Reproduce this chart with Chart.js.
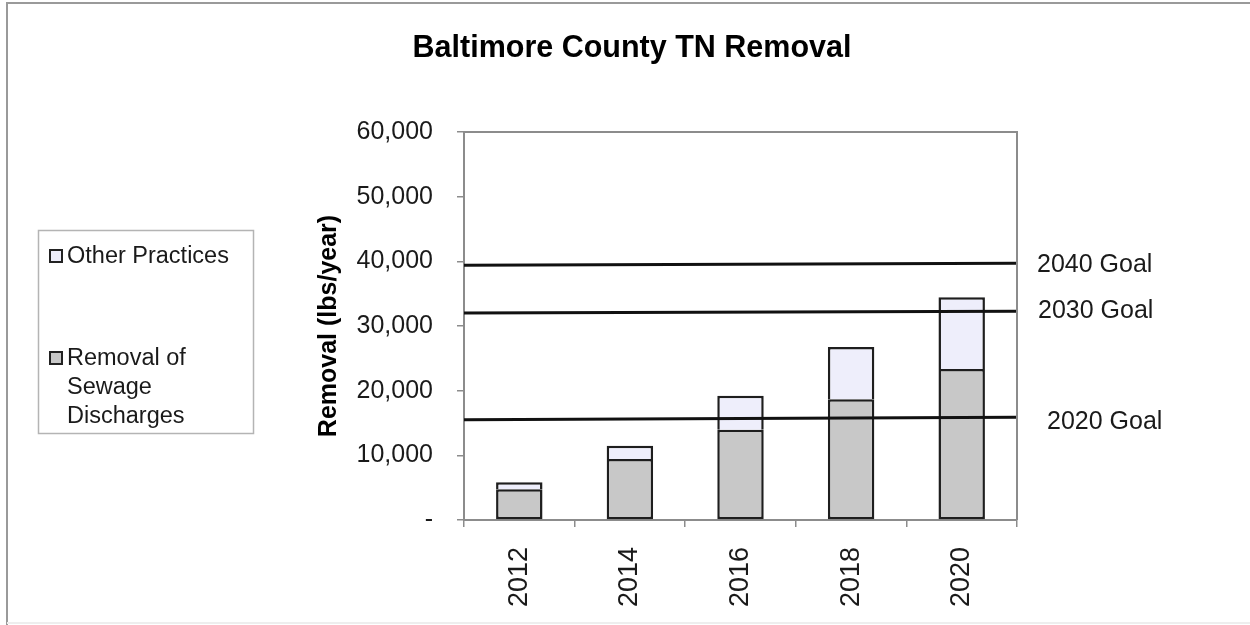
<!DOCTYPE html>
<html>
<head>
<meta charset="utf-8">
<title>Baltimore County TN Removal</title>
<script src="https://cdn.jsdelivr.net/npm/chart.js@4.4.1/dist/chart.umd.min.js"></script>
<style>
  html, body { margin: 0; padding: 0; background: #fff; }
  #wrap { width: 1250px; height: 625px; }
</style>
</head>
<body>
<div id="wrap"><canvas id="tnChart" width="1250" height="625"></canvas></div>
<script>
// chart data
const years = ["2012", "2014", "2016", "2018", "2020"]
const sewageRemoval = [4750, 9430, 13960, 18660, 23350]
const otherPractices = [1080, 2060, 5260, 8090, 11090]
const yTickLabels = ["-", "10,000", "20,000", "30,000", "40,000", "50,000", "60,000"]

// goal lines, value at the left and right edge of the plot
const goalNames = ["2040 Goal", "2030 Goal", "2020 Goal"]
const goalStart = [39400, 32000, 15500]
const goalEnd = [39700, 32300, 15900]

const FONT = "'Liberation Sans', Arial, sans-serif"
const TEXT = "#1a1a1a"
const AXIS = "#8c8c8c"
const GREY = "#c8c8c8"
const LAVENDER = "#eeeefb"

// label spots for the goal text (x pixel, shift from the line end)
const goalLabelX = [1037, 1038, 1047]
const goalLabelDy = [2, 0, 5]

const goalDatasets = goalNames.map((name, i) => ({
    type: "line",
    label: name,
    xAxisID: "x2",
    stack: "goal" + i,
    data: [{ x: 0, y: goalStart[i] }, { x: 1, y: goalEnd[i] }],
    borderColor: "#111",
    borderWidth: 3,
    pointRadius: 0,
    order: 0
}))

// frame, title, legend box and goal labels
const decorations = {
    id: "decorations",
    beforeDraw(chart) {
        const ctx = chart.ctx
        ctx.save()
        ctx.fillStyle = "#fff"
        ctx.fillRect(0, 0, chart.width, chart.height)
        // outer border (top + left)
        ctx.strokeStyle = "#9a9a9a"
        ctx.lineWidth = 2
        ctx.beginPath()
        ctx.moveTo(7, chart.height)
        ctx.lineTo(7, 3)
        ctx.lineTo(chart.width, 3)
        ctx.stroke()
        ctx.strokeStyle = "#eeeeee"
        ctx.beginPath()
        ctx.moveTo(7, 623)
        ctx.lineTo(chart.width, 623)
        ctx.stroke()
        ctx.restore()
    },
    afterDatasetsDraw(chart) {
        const ctx = chart.ctx
        const area = chart.chartArea
        const y = chart.scales.y
        ctx.save()

        // top and right edge of the plot
        ctx.strokeStyle = AXIS
        ctx.lineWidth = 2
        ctx.beginPath()
        ctx.moveTo(area.left, area.top)
        ctx.lineTo(area.right, area.top)
        ctx.lineTo(area.right, area.bottom)
        ctx.stroke()

        // title
        ctx.fillStyle = "#000"
        ctx.font = "bold 30.5px " + FONT
        ctx.textAlign = "center"
        ctx.textBaseline = "middle"
        ctx.fillText("Baltimore County TN Removal", 632, 49)

        // goal labels
        ctx.fillStyle = TEXT
        ctx.font = "25px " + FONT
        ctx.textAlign = "left"
        goalNames.forEach((name, i) => {
            ctx.fillText(name, goalLabelX[i], y.getPixelForValue(goalEnd[i]) + goalLabelDy[i])
        })

        // legend box
        ctx.strokeStyle = "#b4b4b4"
        ctx.lineWidth = 1.5
        ctx.strokeRect(38.5, 230.5, 215, 203)
        const ds = chart.data.datasets
        const entries = [
            { fill: ds[1].backgroundColor, lines: [ds[1].label], top: 257 },
            { fill: ds[0].backgroundColor, lines: ["Removal of", "Sewage", "Discharges"], top: 359 }
        ]
        ctx.font = "23.5px " + FONT
        entries.forEach(e => {
            ctx.fillStyle = e.fill
            ctx.fillRect(50, e.top - 7, 12, 12)
            ctx.strokeStyle = "#222"
            ctx.lineWidth = 2
            ctx.strokeRect(50, e.top - 7, 12, 12)
            ctx.fillStyle = TEXT
            e.lines.forEach((t, k) => ctx.fillText(t, 67, e.top + k * 29))
        })
        ctx.restore()
    }
}

const barStyle = {
    borderColor: "#1e1e1e",
    borderWidth: 2.5,
    barPercentage: 0.42,
    categoryPercentage: 1,
    grouped: false,
    stack: "tn",
    order: 1
}

const ctx = document.getElementById("tnChart")
const tnChart = new Chart(ctx, {
    type: "bar",
    data: {
        labels: years,
        datasets: [
            Object.assign({
                label: "Removal of Sewage Discharges",
                data: sewageRemoval,
                backgroundColor: GREY,
                borderSkipped: false
            }, barStyle),
            Object.assign({
                label: "Other Practices",
                data: otherPractices,
                backgroundColor: LAVENDER,
                borderSkipped: "bottom"
            }, barStyle),
            ...goalDatasets
        ]
    },
    options: {
        responsive: false,
        animation: false,
        devicePixelRatio: 1,
        layout: { padding: { left: 300, right: 233, top: 132, bottom: 0 } },
        plugins: {
            legend: { display: false },
            title: { display: false },
            tooltip: { enabled: false }
        },
        scales: {
            x: {
                stacked: true,
                offset: true,
                grid: { offset: true, drawOnChartArea: false, color: AXIS, tickLength: 7, lineWidth: 1.5 },
                border: { color: AXIS, width: 2 },
                ticks: {
                    color: TEXT,
                    font: { family: FONT, size: 27 },
                    minRotation: 90,
                    maxRotation: 90,
                    autoSkip: false,
                    padding: 20
                },
                afterFit: s => { s.height = 105 }
            },
            x2: {
                type: "linear",
                display: false,
                offset: false,
                min: 0,
                max: 1
            },
            y: {
                stacked: true,
                min: 0,
                max: 60000,
                grid: { drawOnChartArea: false, color: AXIS, tickLength: 7, lineWidth: 1.5 },
                border: { color: AXIS, width: 2 },
                ticks: {
                    stepSize: 10000,
                    color: TEXT,
                    font: { family: FONT, size: 25 },
                    padding: 24,
                    callback: (v, i) => yTickLabels[i]
                },
                title: {
                    display: true,
                    text: "Removal (lbs/year)",
                    color: "#000",
                    font: { family: FONT, size: 25, weight: "bold" },
                    padding: { top: 14, bottom: 0 }
                },
                afterFit: s => { s.width = 164 }
            }
        }
    },
    plugins: [decorations]
})
</script>
</body>
</html>
